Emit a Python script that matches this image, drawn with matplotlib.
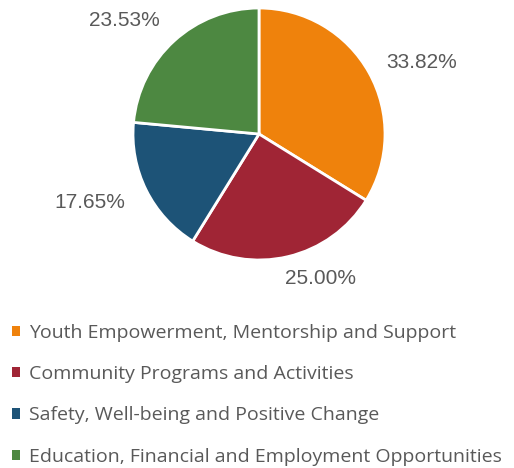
import numpy as np
import matplotlib.pyplot as plt
from matplotlib.patches import Patch

categories = [
    "Youth Empowerment, Mentorship and Support",
    "Community Programs and Activities",
    "Safety, Well-being and Positive Change",
    "Education, Financial and Employment Opportunities",
]
shares = [33.82, 25.00, 17.65, 23.53]
colors = ["#EF820C", "#A02535", "#1D5377", "#4D8841"]

TEXT = "#595959"
plt.rcParams['font.family'] = ['Open Sans', 'DejaVu Sans']

W, H = 514, 468
fig = plt.figure(figsize=(W / 100, H / 100), dpi=100)

# pie centre and radius in pixels
cx, cy, r = 259, 134, 126
ax = fig.add_axes([(cx - r) / W, (H - cy - r) / H, 2 * r / W, 2 * r / H])
wedges, _ = ax.pie(shares, colors=colors, startangle=90, counterclock=False,
                   radius=1.0, wedgeprops=dict(edgecolor='white', linewidth=2))
ax.set_xlim(-1, 1)
ax.set_ylim(-1, 1)
ax.axis('off')

# outside labels: (angle in degrees, distance in radii)
label_pos = [(23.8, 1.41), (-67.0, 1.25), (-158.1, 1.45), (139.8, 1.40)]
for v, (ang, dist) in zip(shares, label_pos):
    a = np.deg2rad(ang)
    ax.text(dist * np.cos(a), dist * np.sin(a), f"{v:.2f}%",
            ha='center', va='center', fontsize=15, color=TEXT,
            family='Liberation Sans', clip_on=False)

handles = [Patch(facecolor=c, edgecolor='none') for c in colors]
leg = fig.legend(handles, categories, loc='upper left',
                 bbox_to_anchor=(4 / W, 1 - 316 / H), frameon=False,
                 fontsize=14, labelcolor=TEXT, handlelength=0.42,
                 handleheight=0.42, handletextpad=0.45, labelspacing=1.2,
                 borderaxespad=0)

fig.savefig("out.png", dpi=100, facecolor='white')
